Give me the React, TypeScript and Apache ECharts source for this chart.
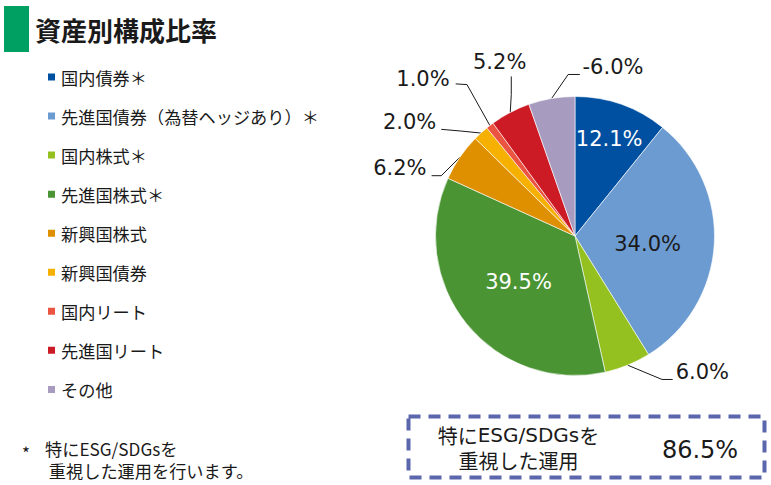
import React, { useEffect, useRef } from "react";
import * as echarts from "echarts";

const categories = [
  "国内債券＊",
  "先進国債券（為替ヘッジあり）＊",
  "国内株式＊",
  "先進国株式＊",
  "新興国株式",
  "新興国債券",
  "国内リート",
  "先進国リート",
  "その他",
];
const values = [12.1, 34.0, 6.0, 39.5, 6.2, 2.0, 1.0, 5.2, -6.0];
const colors = [
  "#0050a2",
  "#6c9bd2",
  "#94c11f",
  "#4a9433",
  "#df9000",
  "#f6b000",
  "#ea5440",
  "#cc1b24",
  "#a89bc0",
];
const titleText = "資産別構成比率";
const footnoteMark = "*";
const footnoteText = "特にESG/SDGsを\n{sp| }重視した運用を行います。";
const esgLabelText = "特に{l|ESG/SDGs}を\n重視した運用";
const esgShare = 86.5;

const JP = '"Noto Sans CJK JP", "Noto Sans", sans-serif';
const NUM = '"DejaVu Sans", sans-serif';
const DARK = "#1a1a1a";

// label styling / placement (offsets relative to library-computed anchors)
const insideLabels: Record<number, { color: string; shift: [number, number] }> = {
  0: { color: "#ffffff", shift: [10, -28] },
  1: { color: DARK, shift: [0, 3.5] },
  3: { color: "#ffffff", shift: [0, 0] },
};
const outsideLabels: Record<
  number,
  { elbow: [number, number]; end: [number, number]; text: [number, number]; align: string }
> = {
  2: { elbow: [34.4, 14.3], end: [45, 14.3], text: [3, -7], align: "left" },
  4: { elbow: [-18.6, 18.5], end: [-28.3, 18.5], text: [-5, -8], align: "right" },
  5: { elbow: [-20, -2], end: [-39.6, -3.7], text: [-5, -7], align: "right" },
  6: { elbow: [-22.9, -40.9], end: [-34.2, -41.6], text: [-6, -5], align: "right" },
  7: { elbow: [1, -18], end: [1, -36], text: [-11.6, -14], align: "center" },
  8: { elbow: [16.5, -24], end: [28.2, -24], text: [2.7, -7], align: "left" },
};

export default function App() {
  const ref = useRef<HTMLDivElement>(null);
  useEffect(() => {
    if (!ref.current) return;
    const chart = echarts.init(ref.current, null, { renderer: "svg" });
    const data = values.map((v, i) => {
      const inside = insideLabels[i];
      return {
        name: categories[i],
        value: Math.abs(v),
        raw: v,
        itemStyle: { color: colors[i] },
        label: inside
          ? { position: "inside", color: inside.color }
          : { position: "outside", color: DARK },
        labelLine: { show: !inside },
      };
    });
    const txt = (
      x: number,
      y: number,
      text: string,
      size: number,
      family: string,
      align = "left",
      weight = "normal",
      lineHeight = 0,
      latinSize = 0
    ) => ({
      type: "text",
      x,
      y,
      silent: true,
      style: {
        text,
        fill: DARK,
        fontSize: size,
        fontFamily: family,
        fontWeight: weight,
        lineHeight: lineHeight || size + 2,
        align,
        verticalAlign: "middle",
        textAlign: align,
        textVerticalAlign: "middle",
        rich: {
          l: {
            fontFamily: NUM,
            fontSize: latinSize || size,
            fill: DARK,
            lineHeight: lineHeight || size + 2,
          },
          sp: { fontFamily: NUM, fontSize: 12, lineHeight: lineHeight || size + 2 },
        },
      },
    });
    chart.setOption({
      animation: false,
      legend: {
        orient: "vertical",
        left: 41,
        top: 62,
        data: categories,
        icon: "rect",
        itemWidth: 9,
        itemHeight: 9,
        itemGap: 19.05,
        selectedMode: false,
        textStyle: { fontFamily: JP, fontSize: 17.2, lineHeight: 20, color: DARK },
      },
      series: [
        {
          type: "pie",
          center: [575, 236],
          radius: 139.5,
          startAngle: 90,
          clockwise: true,
          avoidLabelOverlap: false,
          data,
          itemStyle: { borderColor: "#ffffff", borderWidth: 0.6 },
          label: {
            fontFamily: NUM,
            fontSize: 21,
            formatter: (p: any) => p.data.raw.toFixed(1) + "%",
          },
          labelLine: { show: true, length: 15, length2: 10, lineStyle: { color: DARK, width: 1 } },
          labelLayout: (params: any) => {
            const i = params.dataIndex;
            const ins = insideLabels[i];
            if (ins) {
              const r = params.labelRect;
              return {
                x: r.x + r.width / 2 + ins.shift[0],
                y: r.y + r.height / 2 + ins.shift[1],
                align: "center",
                verticalAlign: "middle",
              };
            }
            const o = outsideLabels[i];
            const pts = params.labelLinePoints;
            if (!o || !pts) return {};
            const ax = pts[0][0];
            const ay = pts[0][1];
            const ex = ax + o.end[0];
            const ey = ay + o.end[1];
            return {
              x: ex + o.text[0],
              y: ey + o.text[1],
              align: o.align,
              verticalAlign: "middle",
              labelLinePoints: [
                [ax, ay],
                [ax + o.elbow[0], ay + o.elbow[1]],
                [ex, ey],
              ],
            };
          },
          emphasis: { disabled: true },
        },
      ],
      graphic: [
        { type: "rect", silent: true, shape: { x: 4, y: 6, width: 25, height: 46 }, style: { fill: "#00a062" } },
        txt(35, 29, titleText, 26, JP, "left", "bold"),
        txt(22, 452, footnoteMark, 17, JP),
        txt(45, 459.5, footnoteText, 17.2, JP, "left", "normal", 22.5),
        {
          type: "rect",
          silent: true,
          shape: { x: 408.5, y: 416.5, width: 356, height: 61 },
          style: { fill: "transparent", stroke: "#5b66ad", lineWidth: 4, lineDash: [12, 8] },
        },
        txt(518.5, 447.5, esgLabelText, 20, JP, "center", "normal", 25, 20),
        txt(700, 450, esgShare.toFixed(1) + "%", 24, NUM, "center"),
      ],
    });
    return () => chart.dispose();
  }, []);
  return (
    <div
      ref={ref}
      style={{ position: "absolute", left: 0, top: 0, width: 771, height: 485 }}
    />
  );
}
